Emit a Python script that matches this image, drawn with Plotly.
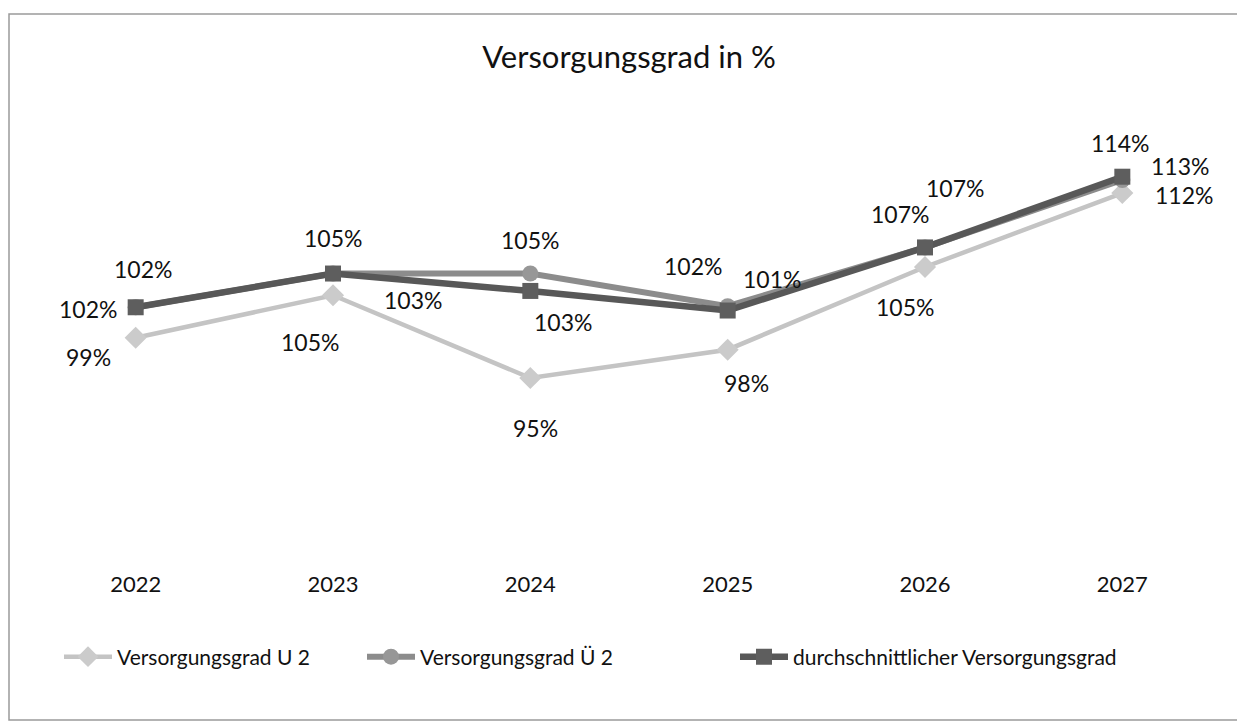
import plotly.graph_objects as go

years = ["2022", "2023", "2024", "2025", "2026", "2027"]

names = ["Versorgungsgrad U 2", "Versorgungsgrad Ü 2", "durchschnittlicher Versorgungsgrad"]

u2_values = [98.7, 102.6, 95.0, 97.6, 105.2, 112.0]
ue2_values = [101.5, 104.6, 104.6, 101.6, 107.0, 113.2]
avg_values = [101.5, 104.6, 103.0, 101.2, 107.0, 113.5]

u2_labels = ["99%", "105%", "95%", "98%", "105%", "112%"]
ue2_labels = ["102%", "105%", "105%", "102%", "107%", "113%"]
avg_labels = ["102%", "103%", "103%", "101%", "107%", "114%"]

# label offsets (px) relative to points: (dx, dy down-positive)
u2_off = [(-47, 19), (-23, 47), (5, 50), (19, 33), (-20, 40), (62, 2)]
ue2_off = [(7, -38), (0, -36), (0, -34), (-35, -40), (30, -59), (58, -14)]
avg_off = [(-48, 2), (80, 26), (33, 31), (44, -32), (-25, -33), (-2, -34)]

FONT = "Lato"
W, H = 1237, 714          # page body adds an 8px offset
L, T = 29, 92
PW, PH = 1184, 465        # plot area size

series = [
    (u2_values, u2_labels, u2_off, "#c4c4c4", "#cbcbcb", "diamond", 17, 4.5, "legend"),
    (ue2_values, ue2_labels, ue2_off, "#8c8c8c", "#979797", "circle", 16, 6, "legend2"),
    (avg_values, avg_labels, avg_off, "#585858", "#5e5e5e", "square", 16, 6.5, "legend3"),
]

fig = go.Figure()
annotations = []
for (vals, labs, offs, lc, mc, sym, ms, lw, lg), name in zip(series, names):
    fig.add_trace(go.Scatter(
        x=years, y=vals, name=name, mode="lines+markers",
        line=dict(color=lc, width=lw),
        marker=dict(symbol=sym, size=ms, color=mc),
        legend=lg, hoverinfo="skip",
    ))
    for i, (yv, t, (dx, dy)) in enumerate(zip(vals, labs, offs)):
        annotations.append(dict(
            x=i, y=yv, xref="x", yref="y", text=t, showarrow=False,
            xshift=dx, yshift=-dy, xanchor="center", yanchor="middle",
            font=dict(family=FONT, size=23, color="#111111"),
        ))

legend_common = dict(orientation="h", xanchor="left", yanchor="middle",
                     font=dict(family=FONT, size=21, color="#111111"),
                     bgcolor="rgba(0,0,0,0)", itemwidth=48)

def px_x(sx):
    return (sx - 37) / PW

def px_y(sy):
    return (565 - sy) / PH

fig.update_layout(
    width=W, height=H, autosize=False,
    margin=dict(l=L, r=W - L - PW, t=T, b=H - T - PH, pad=0),
    paper_bgcolor="white", plot_bgcolor="white",
    title=dict(text="Versorgungsgrad in %", x=0.5, xref="paper", xanchor="center",
               y=1 - (57 - 8) / H, yanchor="middle",
               font=dict(family=FONT, size=31, color="#111111")),
    xaxis=dict(type="category", range=[-0.5, 5.5], showgrid=False, zeroline=False,
               showline=False, ticks="", tickfont=dict(family=FONT, size=22, color="#111111"),
               ticklabelstandoff=4),
    yaxis=dict(range=[77.81, 120.55], showgrid=False, zeroline=False, showline=False,
               showticklabels=False, ticks=""),
    annotations=annotations,
    legend=dict(x=px_x(59), y=px_y(657), **legend_common),
    legend2=dict(x=px_x(362), y=px_y(657), **legend_common),
    legend3=dict(x=px_x(735), y=px_y(657), **legend_common),
    shapes=[dict(type="rect", xref="paper", yref="paper",
                 x0=px_x(9), x1=px_x(1252),
                 y0=px_y(720), y1=px_y(14),
                 line=dict(color="#9a9a9a", width=1.5), fillcolor="rgba(0,0,0,0)",
                 layer="below")],
    showlegend=True,
)

fig.write_html("out.html")
